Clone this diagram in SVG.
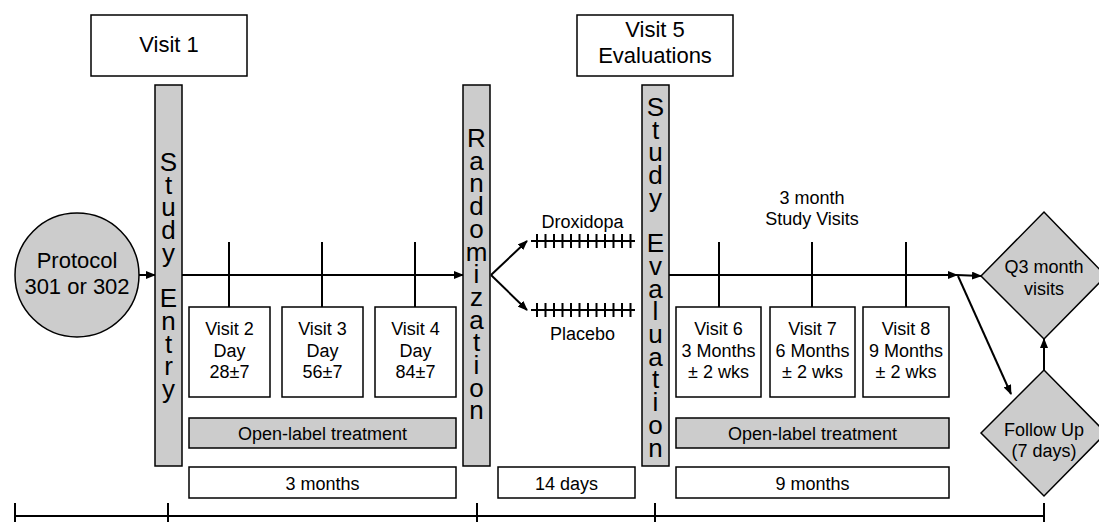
<svg xmlns="http://www.w3.org/2000/svg" width="1099" height="522" viewBox="0 0 1099 522">
<style>
text{font-family:"Liberation Sans",Arial,sans-serif;fill:#000}
.t22{font-size:22px;text-anchor:middle}
.t18{font-size:18px;text-anchor:middle}
.v{font-size:26px;writing-mode:vertical-rl;text-orientation:upright;letter-spacing:-7.3px;white-space:pre}
.box{fill:#fff;stroke:#000;stroke-width:1.5}
.gray{fill:#cccccc;stroke:#000;stroke-width:1.5}
.ln{stroke:#000;stroke-width:2;fill:none}
</style>
<defs>
<marker id="ah" markerUnits="userSpaceOnUse" markerWidth="10" markerHeight="8" refX="9" refY="4" orient="auto">
<path d="M0,0 L10,4 L0,8 Z" fill="#000"/>
</marker>
</defs>
<rect width="1099" height="522" fill="#fff"/>

<g id="connectors">
<line class="ln" x1="139" y1="275" x2="155" y2="275" marker-end="url(#ah)"/>
<line class="ln" x1="182" y1="275" x2="463" y2="275" marker-end="url(#ah)"/>
<path class="ln" d="M229,242V307M322,242V307M415,242V307"/>
<line class="ln" x1="491" y1="275" x2="527" y2="241" marker-end="url(#ah)"/>
<line class="ln" x1="491" y1="275" x2="527" y2="310" marker-end="url(#ah)"/>
<path class="ln" d="M531,241H635M537,234V248M545.5,234V248M554,234V248M562.5,234V248M571,234V248M579.5,234V248M588,234V248M596.5,234V248M605,234V248M613.5,234V248M622,234V248M630.5,234V248"/>
<path class="ln" d="M531,310H635M537,303V317M545.5,303V317M554,303V317M562.5,303V317M571,303V317M579.5,303V317M588,303V317M596.5,303V317M605,303V317M613.5,303V317M622,303V317M630.5,303V317"/>
<line class="ln" x1="669" y1="275" x2="957" y2="275" marker-end="url(#ah)"/>
<path class="ln" d="M719,242V307M812,242V307M906,242V307"/>
<line class="ln" x1="957" y1="275" x2="981" y2="276" marker-end="url(#ah)"/>
<line class="ln" x1="958" y1="276" x2="1011" y2="394" marker-end="url(#ah)"/>
<line class="ln" x1="1044" y1="370" x2="1044" y2="339" marker-end="url(#ah)"/>
</g>

<g id="timeline">
<path class="ln" d="M15,516H1044M15,503V522M168,503V522M477,503V522M655,503V522M1044,503V522"/>
</g>

<g id="visit1"><rect class="box" x="91" y="15" width="156" height="61"/><text class="t22" x="169" y="52">Visit 1</text></g>
<g id="visit5"><rect class="box" x="577" y="15" width="156" height="61"/><text class="t22" x="655" y="37">Visit 5</text><text class="t22" x="655" y="63">Evaluations</text></g>

<g id="protocol"><circle cx="77" cy="275" r="62" class="gray"/><text class="t22" x="77" y="268">Protocol</text><text class="t22" x="77" y="294">301 or 302</text></g>

<g id="study-entry"><rect class="gray" x="155" y="85" width="27" height="381"/>
<text class="v" x="168.5" y="147">Study Entry</text></g>

<g id="randomization"><rect class="gray" x="463" y="85" width="27" height="381"/>
<text class="v" x="476.5" y="123">Randomization</text></g>

<g id="study-evaluation"><rect class="gray" x="642" y="85" width="27" height="381"/>
<text class="v" x="655.5" y="92">Study Evaluation</text></g>

<g id="visit2"><rect class="box" x="189" y="307" width="81" height="90"/><text class="t18" x="229.5" y="335">Visit 2</text><text class="t18" x="229.5" y="357">Day</text><text class="t18" x="229.5" y="378">28±7</text></g>
<g id="visit3"><rect class="box" x="282" y="307" width="81" height="90"/><text class="t18" x="322.5" y="335">Visit 3</text><text class="t18" x="322.5" y="357">Day</text><text class="t18" x="322.5" y="378">56±7</text></g>
<g id="visit4"><rect class="box" x="375" y="307" width="81" height="90"/><text class="t18" x="415.5" y="335">Visit 4</text><text class="t18" x="415.5" y="357">Day</text><text class="t18" x="415.5" y="378">84±7</text></g>

<g id="openlabel1"><rect class="gray" x="189" y="418" width="267" height="30"/><text class="t18" x="322.5" y="440">Open-label treatment</text></g>
<g id="months3"><rect class="box" x="189" y="467" width="267" height="31"/><text class="t18" x="322.5" y="490">3 months</text></g>
<g id="days14"><rect class="box" x="498" y="467" width="137" height="31"/><text class="t18" x="566.5" y="490">14 days</text></g>

<g id="droxidopa"><text class="t18" x="582.5" y="228">Droxidopa</text></g>
<g id="placebo"><text class="t18" x="582.5" y="340">Placebo</text></g>

<g id="study-visits-label"><text class="t18" x="812" y="204">3 month</text><text class="t18" x="812" y="225">Study Visits</text></g>

<g id="visit6"><rect class="box" x="676" y="307" width="85" height="90"/><text class="t18" x="718.5" y="335">Visit 6</text><text class="t18" x="718.5" y="357">3 Months</text><text class="t18" x="718.5" y="378">± 2 wks</text></g>
<g id="visit7"><rect class="box" x="770" y="307" width="85" height="90"/><text class="t18" x="812.5" y="335">Visit 7</text><text class="t18" x="812.5" y="357">6 Months</text><text class="t18" x="812.5" y="378">± 2 wks</text></g>
<g id="visit8"><rect class="box" x="863" y="307" width="86" height="90"/><text class="t18" x="906" y="335">Visit 8</text><text class="t18" x="906" y="357">9 Months</text><text class="t18" x="906" y="378">± 2 wks</text></g>

<g id="openlabel2"><rect class="gray" x="676" y="418" width="273" height="30"/><text class="t18" x="812.5" y="440">Open-label treatment</text></g>
<g id="months9"><rect class="box" x="676" y="467" width="273" height="31"/><text class="t18" x="812.5" y="490">9 months</text></g>

<g id="q3"><polygon class="gray" points="981,276 1044,212 1106,276 1044,339"/><text class="t18" x="1044" y="273">Q3 month</text><text class="t18" x="1044" y="295">visits</text></g>
<g id="followup"><polygon class="gray" points="981,433 1044,370 1106,433 1044,496"/><text class="t18" x="1044" y="436">Follow Up</text><text class="t18" x="1044" y="457">(7 days)</text></g>
</svg>
